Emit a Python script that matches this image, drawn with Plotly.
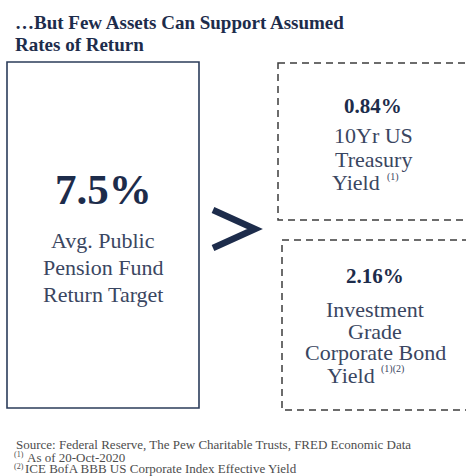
import plotly.graph_objects as go

W, H = 466, 476

# ---- content (text values) ----
title_lines = ["…But Few Assets Can Support Assumed", "Rates of Return"]
main_value = "7.5%"
main_label = ["Avg. Public", "Pension Fund", "Return Target"]
comp_values = ["0.84%", "2.16%"]
comp_labels = [
    ["10Yr US", "Treasury"],
    ["Investment", "Grade", "Corporate Bond"],
]
comp_last_word = ["Yield", "Yield"]
comp_notes = ["(1)", "(1)(2)"]
footnote_source = "Source: Federal Reserve, The Pew Charitable Trusts, FRED Economic Data"
footnote_marks = ["(1)", "(2)"]
footnote_texts = ["As of 20-Oct-2020", "ICE BofA BBB US Corporate Index Effective Yield"]

# ---- styling / layout ----
SERIF = "Liberation Serif"
NAVY = "#1d2c4b"
BODY = "#3a4661"
GRAY = "#4d4d4d"

fig = go.Figure()
fig.add_trace(go.Scatter(x=[0], y=[0], mode="markers", marker=dict(opacity=0), hoverinfo="skip", showlegend=False))

def ann(text, x, y, size, color, bold=False, xanchor="center"):
    fig.add_annotation(
        text=f"<b>{text}</b>" if bold else text,
        x=x, y=y, xref="x", yref="y", showarrow=False,
        xanchor=xanchor, yanchor="middle",
        font=dict(family=SERIF, size=size, color=color),
    )

# title
for t, yy in zip(title_lines, [22, 44]):
    ann(t, 13, yy, 19, NAVY, bold=True, xanchor="left")

# left box
fig.add_shape(type="rect", x0=7, x1=199, y0=62, y1=408, xref="x", yref="y",
              line=dict(color="#2b3c5a", width=1.6))
ann(main_value, 103, 189, 43, NAVY, bold=True)
for t, yy in zip(main_label, [240, 267, 294]):
    ann(t, 103, yy, 22, BODY)

# chevron
fig.add_shape(type="path", path="M 213 210 L 255 229 L 213 248", xref="x", yref="y",
              line=dict(color=NAVY, width=6.5))

# right dashed boxes
fig.add_shape(type="rect", x0=278, x1=472, y0=63, y1=220, xref="x", yref="y",
              line=dict(color="#3c3c3c", width=1.5, dash="7px,5px"))
fig.add_shape(type="rect", x0=282, x1=472, y0=240, y1=410, xref="x", yref="y",
              line=dict(color="#3c3c3c", width=1.5, dash="7px,5px"))

# top-right box
ann(comp_values[0], 373, 106, 21, NAVY, bold=True)
for t, yy in zip(comp_labels[0], [135, 159]):
    ann(t, 373, yy, 22, BODY)
ann(comp_last_word[0], 382, 182, 22, BODY, xanchor="right")
ann(comp_notes[0], 385, 177, 10, BODY, xanchor="left")

# bottom-right box
ann(comp_values[1], 375, 276, 21, NAVY, bold=True)
for t, yy in zip(comp_labels[1], [309, 331, 352]):
    ann(t, 375, yy, 22, BODY)
ann(comp_last_word[1], 377, 375, 22, BODY, xanchor="right")
ann(comp_notes[1], 379, 369, 10, BODY, xanchor="left")

# footnotes
ann(footnote_source, 14, 444, 13, GRAY, xanchor="left")
ann(footnote_marks[0], 12, 454, 8, GRAY, xanchor="left")
ann(footnote_texts[0], 25, 457, 13, GRAY, xanchor="left")
ann(footnote_marks[1], 12, 466, 8, GRAY, xanchor="left")
ann(footnote_texts[1], 23, 468.5, 13, GRAY, xanchor="left")

fig.update_layout(
    width=W, height=H,
    margin=dict(l=0, r=0, t=0, b=0),
    paper_bgcolor="white", plot_bgcolor="white",
    xaxis=dict(range=[0, W], visible=False, fixedrange=True),
    yaxis=dict(range=[H, 0], visible=False, fixedrange=True),
    showlegend=False,
)

fig.write_html("out.html", config={"displayModeBar": False},
               post_script="document.body.style.margin='0';document.body.style.overflow='hidden';")
